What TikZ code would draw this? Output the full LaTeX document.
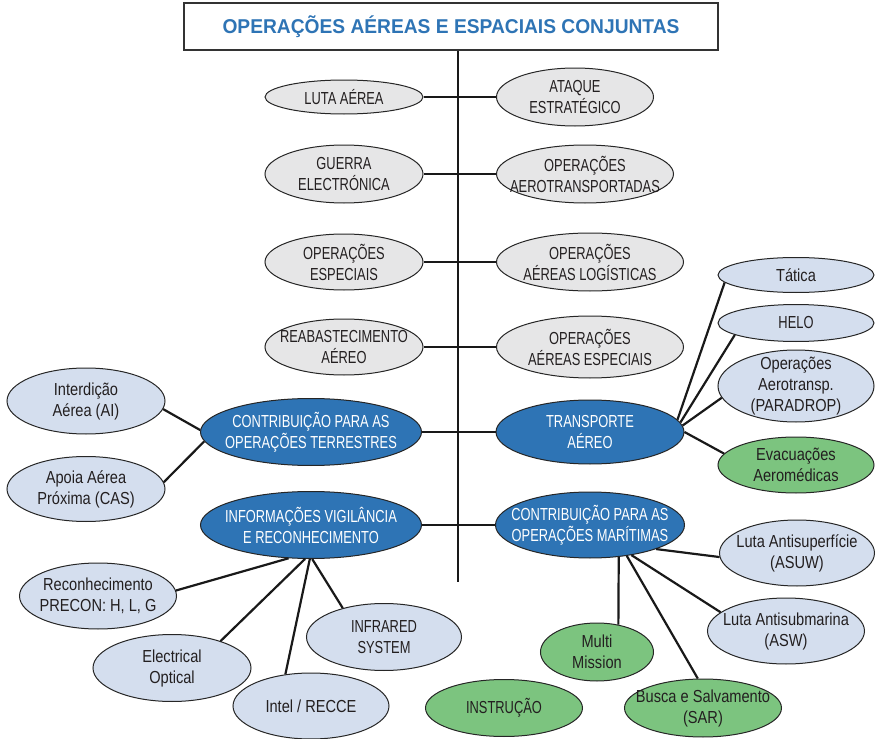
\documentclass[tikz,border=0pt]{standalone}
\usepackage{fontspec}
\setmainfont{Liberation Sans}[FakeStretch=0.74]
\newfontfamily\lowfont{Liberation Sans}[FakeStretch=0.84]
\newfontfamily\titlefont{Liberation Sans}[FakeStretch=0.96]
\usetikzlibrary{shapes.geometric}
\definecolor{opblue}{HTML}{2E74B5}
\definecolor{opgray}{HTML}{E6E6E7}
\definecolor{oplight}{HTML}{D4DEEE}
\definecolor{opgreen}{HTML}{7CC47F}
\definecolor{optext}{HTML}{231F20}
\tikzstyle{every node}=[ellipse, draw=black!85, line width=0.5pt, inner sep=-15pt, align=center, text=optext, font=\fontsize{8.7}{10.5}\selectfont]
\tikzstyle{branch}=[fill=opgray]
\tikzstyle{mainop}=[fill=opblue, text=white]
\tikzstyle{subop}=[fill=oplight, font=\lowfont\fontsize{8.7}{10.5}\selectfont]
\tikzstyle{greenop}=[fill=opgreen, font=\lowfont\fontsize{8.7}{10.5}\selectfont]
\tikzstyle{capsop}=[font=\fontsize{8.7}{10.5}\selectfont]
\tikzstyle{link}=[line width=1.1pt, black!90]

\begin{document}
\begin{tikzpicture}[x=0.5pt, y=-0.5pt]
    \useasboundingbox (0,0) rectangle (875,739);
    \node [rectangle, draw=black!80, line width=1.3pt, fill=white, inner sep=0pt,
           minimum width=267pt, minimum height=23.5pt, text=opblue,
           font=\titlefont\bfseries\fontsize{10}{12}\selectfont] (title) at (451,26.5)
          {OPERAÇÕES AÉREAS E ESPACIAIS CONJUNTAS};
    \coordinate (trunk) at (458,582);

    % branches on both sides of the trunk
    \node [branch, minimum width=79pt, minimum height=17pt]   (luta)    at (344,97)  {LUTA AÉREA};
    \node [branch, minimum width=78.5pt, minimum height=29pt] (ataque)  at (575,97)  {ATAQUE\\ESTRATÉGICO};
    \node [branch, minimum width=79pt, minimum height=29pt]   (guerra)  at (344,174) {GUERRA\\ELECTRÓNICA};
    \node [branch, minimum width=88.5pt, minimum height=29pt] (aerotr)  at (585,174) {OPERAÇÕES\\AEROTRANSPORTADAS};
    \node [branch, minimum width=79pt, minimum height=28pt]   (especi)  at (344,262) {OPERAÇÕES\\ESPECIAIS};
    \node [branch, minimum width=93.5pt, minimum height=29pt] (logist)  at (590,262) {OPERAÇÕES\\AÉREAS LOGÍSTICAS};
    \node [branch, minimum width=79pt, minimum height=28pt]   (reabast) at (344,347) {REABASTECIMENTO\\AÉREO};
    \node [branch, minimum width=93.5pt, minimum height=31pt] (aeresp)  at (590,347) {OPERAÇÕES\\AÉREAS ESPECIAIS};

    \node [mainop, minimum width=110.5pt, minimum height=33.5pt] (terr)   at (311,432) {CONTRIBUIÇÃO PARA AS\\OPERAÇÕES TERRESTRES};
    \node [mainop, minimum width=94pt, minimum height=32pt]      (transp) at (590,432) {TRANSPORTE\\AÉREO};
    \node [mainop, minimum width=110.5pt, minimum height=33.5pt] (info)   at (311,525) {INFORMAÇÕES VIGILÂNCIA\\E RECONHECIMENTO};
    \node [mainop, minimum width=94.5pt, minimum height=33pt]    (mar)    at (590,525) {CONTRIBUIÇÃO PARA AS\\OPERAÇÕES MARÍTIMAS};

    % land support
    \node [subop, minimum width=79pt, minimum height=33pt]   (interd) at (86,401) {Interdição\\Aérea (AI)};
    \node [subop, minimum width=79pt, minimum height=32.5pt] (cas)    at (86,489) {Apoia Aérea\\Próxima (CAS)};

    % air transport
    \node [subop, minimum width=78pt, minimum height=17.5pt] (tatica)   at (796,275) {Tática};
    \node [subop, capsop, minimum width=78pt, minimum height=18.5pt] (helo) at (796,323) {HELO};
    \node [subop, minimum width=78pt, minimum height=36pt]   (paradrop) at (796,386) {Operações\\Aerotransp.\\(PARADROP)};
    \node [greenop, minimum width=78pt, minimum height=28pt] (evac)     at (796,465) {Evacuações\\Aeromédicas};

    % surveillance
    \node [subop, minimum width=78.5pt, minimum height=33pt] (precon) at (98,596)  {Reconhecimento\\PRECON: H, L, G};
    \node [subop, minimum width=79pt, minimum height=33.5pt] (eletr)  at (172,668) {Electrical\\Optical};
    \node [subop, minimum width=78pt, minimum height=33pt]   (intel)  at (311,706) {Intel / RECCE};
    \node [subop, capsop, minimum width=77.5pt, minimum height=33.5pt] (infra) at (384,637) {INFRARED\\SYSTEM};

    % maritime
    \node [subop, minimum width=77.5pt, minimum height=33pt]   (asuw)  at (797,553) {Luta Antisuperfície\\(ASUW)};
    \node [subop, minimum width=78.5pt, minimum height=33pt]   (asw)   at (786,631) {Luta Antisubmarina\\(ASW)};
    \node [greenop, minimum width=56.5pt, minimum height=29pt] (multi) at (597,652) {Multi\\Mission};
    \node [greenop, minimum width=78.5pt, minimum height=29pt] (sar)   at (703,708) {Busca e Salvamento\\(SAR)};
    \node [greenop, capsop, minimum width=78.5pt, minimum height=28.5pt] (instr) at (504,708) {INSTRUÇÃO};

    \draw[link] (luta) -- (ataque);
    \draw[link] (guerra) -- (aerotr);
    \draw[link] (especi) -- (logist);
    \draw[link] (reabast) -- (aeresp);
    \draw[link] (terr) -- (transp);
    \draw[link] (info) -- (mar);
    \draw[line width=1.4pt, black!90] (title.south -| trunk) -- (trunk);

    \draw[link] (interd.-6) -- (terr.179);
    \draw[link] (cas.5) -- (terr.185);

    \draw[link] (transp.8) -- (tatica.186);
    \draw[link] (transp.6) -- (helo.191);
    \draw[link] (transp.4) -- (paradrop.189);
    \draw[link] (transp.0) -- (evac.171);

    \draw[link] (info.236) -- (precon.4);
    \draw[link] (info.260) -- (eletr.29);
    \draw[link] (info.268) -- (intel.129);
    \draw[link] (info.272) -- (infra.145);

    \draw[link] (mar.-20) -- (asuw.183);
    \draw[link] (mar.-36) -- (asw.164);
    \draw[link] (mar.-40) -- (sar.100);
    \draw[link] (mar.-48) -- (multi.52);
\end{tikzpicture}
\end{document}
